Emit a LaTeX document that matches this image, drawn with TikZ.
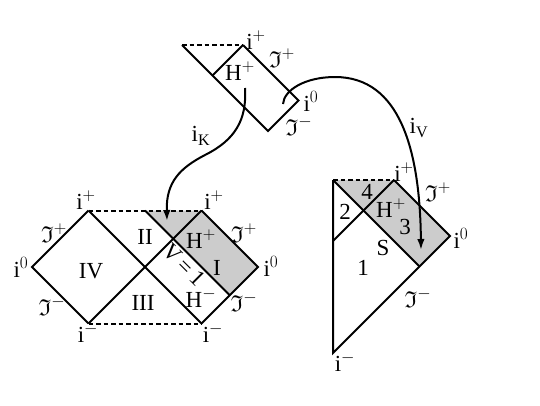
\documentclass[tikz,border=0pt]{standalone}
\usepackage{amssymb}
\usepackage{fontspec}
\setmainfont{Liberation Serif}
\usetikzlibrary{arrows.meta}
\begin{document}
\begin{tikzpicture}[x=1pt,y=-1pt,
  edge/.style={line width=2pt, line join=miter},
  dashline/.style={line width=2pt, dash pattern=on 4.5pt off 3pt},
  shaded/.style={fill=black!20},
  lbl/.style={font=\fontsize{23}{27}\selectfont, inner sep=0pt},
  curve/.style={line width=2pt, -{Latex[length=11pt,width=7.5pt]}}]
\useasboundingbox (0,0) rectangle (540,405);

% ---------- top diagram ----------
\coordinate (Ta) at (182,45);
\coordinate (Tp) at (243,45);
\coordinate (To) at (298.5,100.5);
\coordinate (Tb) at (268,131);
\coordinate (Tm) at (212.5,75.5);
\draw[dashline] (Ta) -- (Tp);
\draw[edge] (Tp) -- (To) -- (Tb) -- (Ta);
\draw[edge] (Tp) -- (Tm);

% ---------- left diagram ----------
\coordinate (L0) at (32,267);
\coordinate (Lt) at (88.5,210.5);
\coordinate (Lc) at (145,267);
\coordinate (Lb) at (88.5,323.5);
\coordinate (Rt) at (201.5,210.5);
\coordinate (R0) at (258,267);
\coordinate (Rb) at (201.5,323.5);
\coordinate (Vt) at (145,210.5);
\coordinate (Ve) at (229.75,295.25);
\fill[shaded] (Vt) -- (Rt) -- (R0) -- (Ve) -- cycle;
\draw[dashline] (Lt) -- (Rt);
\draw[dashline] (Lb) -- (Rb);
\draw[edge] (Lt) -- (L0) -- (Lb);
\draw[edge] (Lt) -- (Rb);
\draw[edge] (Lb) -- (Rt);
\draw[edge] (Rt) -- (R0) -- (Rb);
\draw[edge] (Vt) -- (Ve);

% ---------- right diagram ----------
\coordinate (P1) at (333,180);
\coordinate (Pp) at (394,180);
\coordinate (Po) at (450,236);
\coordinate (Pg) at (419.5,266.5);
\coordinate (Pl) at (333,241);
\coordinate (Pi) at (333,353);
\fill[shaded] (P1) -- (Pp) -- (Po) -- (Pg) -- cycle;
\draw[dashline] (P1) -- (Pp);
\draw[edge] (Pp) -- (Po) -- (Pi) -- (P1);
\draw[edge] (P1) -- (Pg);
\draw[edge] (Pp) -- (Pl);

% ---------- maps ----------
\coordinate (kS) at (245,88);
\coordinate (kM) at (205,155);
\coordinate (kE) at (167,221);
\draw[curve] (kS) .. controls (247,120) and (235,140) .. (kM)
  .. controls (180,168) and (166,182) .. (kE);
\coordinate (vS) at (283,104);
\coordinate (vM) at (335,77);
\coordinate (vE) at (421,250);
\draw[curve] (vS) .. controls (284,90) and (305,77) .. (vM)
  .. controls (400,77) and (420,150) .. (vE);

% ---------- labels: top ----------
\node[lbl] (t1) at (256,40) {i$^{+}$};
\node[lbl] (t2) at (282,58) {$\mathfrak{I}^{+}$};
\node[lbl] (t3) at (240,71) {H$^{+}$};
\node[lbl] (t4) at (311,101) {i$^{0}$};
\node[lbl] (t5) at (299,126) {$\mathfrak{I}^{-}$};
\node[lbl] (t6) at (201,136) {i$_{\mathrm{K}}$};
\node[lbl] (t7) at (419,128) {i$_{\mathrm{V}}$};

% ---------- labels: left ----------
\node[lbl] (a1) at (86,200) {i$^{+}$};
\node[lbl] (a2) at (214,200) {i$^{+}$};
\node[lbl] (a3) at (21,267) {i$^{0}$};
\node[lbl] (a4) at (271,266) {i$^{0}$};
\node[lbl] (a5) at (88,333) {i$^{-}$};
\node[lbl] (a6) at (213,333) {i$^{-}$};
\node[lbl] (a7) at (54,233) {$\mathfrak{I}^{+}$};
\node[lbl] (a8) at (52,306) {$\mathfrak{I}^{-}$};
\node[lbl] (a9) at (91,271) {IV};
\node[lbl] (a10) at (145,237) {II};
\node[lbl] (a11) at (143,303) {III};
\node[lbl] (a12) at (201,239) {H$^{+}$};
\node[lbl] (a13) at (217,268) {I};
\node[lbl,rotate=-45] (a14) at (184,265) {V$\,$=$\,$1};
\node[lbl] (a15) at (201,298) {H$^{-}$};
\node[lbl] (a16) at (244,233) {$\mathfrak{I}^{+}$};
\node[lbl] (a17) at (244,302) {$\mathfrak{I}^{-}$};

% ---------- labels: right ----------
\node[lbl] (b1) at (404,172) {i$^{+}$};
\node[lbl] (b2) at (438,192) {$\mathfrak{I}^{+}$};
\node[lbl] (b3) at (461,238) {i$^{0}$};
\node[lbl] (b4) at (418,298) {$\mathfrak{I}^{-}$};
\node[lbl] (b5) at (345,362) {i$^{-}$};
\node[lbl] (b6) at (367,192) {4};
\node[lbl] (b7) at (345,212) {2};
\node[lbl] (b8) at (391,208) {H$^{+}$};
\node[lbl] (b9) at (405,227) {3};
\node[lbl] (b10) at (383,248) {S};
\node[lbl] (b11) at (363,268) {1};
\end{tikzpicture}
\end{document}
